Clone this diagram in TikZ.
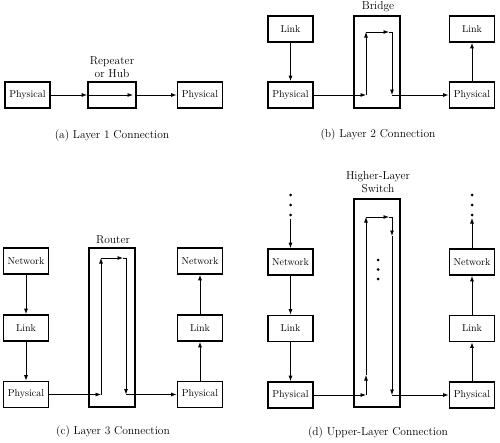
\documentclass[tikz,border=0pt]{standalone}
\usetikzlibrary{arrows.meta}
\begin{document}
\begin{tikzpicture}[x=1pt,y=-1pt,
  box/.style={draw,line width=1.7pt,minimum width=45pt,minimum height=26pt,inner sep=0pt,font=\fontsize{10}{11}\selectfont},
  dev/.style={draw,line width=1.7pt,minimum width=46pt,inner sep=0pt},
  lbl/.style={font=\fontsize{11.5}{13}\selectfont,align=center,inner sep=0pt},
  captxt/.style={font=\fontsize{11.5}{13}\selectfont,inner sep=0pt},
  arr/.style={line width=0.8pt,-{Latex[length=5.5pt,width=4pt]}},
  ln/.style={line width=0.8pt},
  dot/.style={circle,fill,inner sep=0pt,minimum size=3pt}]
\useasboundingbox (0,0) rectangle (500,442);
% ---------- (a)
\node[box] (ap1) at (27.5,95) {Physical};
\node[dev,minimum width=48pt,minimum height=26pt] (hub) at (112,95) {};
\node[box] (ap2) at (200,95) {Physical};
\node[lbl] (hubl) at (112,67) {Repeater\\or Hub};
\coordinate (ha) at (133,95);
\draw[arr] (ap1.east) -- (hub.west);
\draw[arr] (hub.west) -- (ha);
\draw[arr] (hub.east) -- (ap2.west);
\node[captxt] (capa) at (112,136) {(a) Layer 1 Connection};
% ---------- (b)
\node[box] (bl1) at (290.5,29) {Link};
\node[box] (bp1) at (290.5,95) {Physical};
\node[dev,minimum height=92pt] (br) at (377,62) {};
\node[lbl] (brl) at (378,7) {Bridge};
\node[box] (bl2) at (472,29) {Link};
\node[box] (bp2) at (472,95) {Physical};
\coordinate (b1) at (366,95);
\coordinate (b2) at (366,32);
\coordinate (b3) at (389,32);
\coordinate (b4) at (392,32);
\coordinate (b5) at (392,95);
\draw[arr] (bl1) -- (bp1);
\draw[arr] (bp1.east) -- (b1);
\draw[arr] (b1) -- (b2);
\draw[arr] (b2) -- (b3);
\draw[ln] (b3) -- (b4);
\draw[arr] (b4) -- (b5);
\draw[arr] (b5) -- (bp2.west);
\draw[arr] (bp2) -- (bl2);
\node[captxt] (capb) at (378,135) {(b) Layer 2 Connection};
% ---------- (c)
\node[box] (cn1) at (26,261) {Network};
\node[box] (cl1) at (26,328) {Link};
\node[box] (cp1) at (26,394.5) {Physical};
\node[dev,minimum height=159pt] (ro) at (112,327.5) {};
\node[lbl] (rol) at (113,240) {Router};
\node[box] (cn2) at (200,261) {Network};
\node[box] (cl2) at (200,328) {Link};
\node[box] (cp2) at (200,394.5) {Physical};
\coordinate (c1) at (101,394.5);
\coordinate (c2) at (101,258);
\coordinate (c3) at (123,258);
\coordinate (c4) at (126,258);
\coordinate (c5) at (126,394.5);
\draw[arr] (cn1) -- (cl1);
\draw[arr] (cl1) -- (cp1);
\draw[arr] (cp1.east) -- (c1);
\draw[arr] (c1) -- (c2);
\draw[arr] (c2) -- (c3);
\draw[ln] (c3) -- (c4);
\draw[arr] (c4) -- (c5);
\draw[arr] (c5) -- (cp2.west);
\draw[arr] (cp2) -- (cl2);
\draw[arr] (cl2) -- (cn2);
\node[captxt] (capc) at (113,432) {(c) Layer 3 Connection};
% ---------- (d)
\node[dot] (dl1) at (290.5,195) {};
\node[dot] (dl2) at (290.5,205) {};
\node[dot] (dl3) at (290.5,215) {};
\node[box] (dn1) at (290.5,262) {Network};
\node[box] (dl1b) at (290.5,328.5) {Link};
\node[box] (dp1) at (290.5,395) {Physical};
\node[dev,minimum height=208pt] (sw) at (377,303) {};
\node[lbl] (swl) at (378,182) {Higher-Layer\\Switch};
\node[dot] (ds1) at (378,260) {};
\node[dot] (ds2) at (378,269.5) {};
\node[dot] (ds3) at (378,279) {};
\node[box] (dn2) at (472,262) {Network};
\node[box] (dl2b) at (472,328.5) {Link};
\node[box] (dp2) at (472,395) {Physical};
\node[dot] (dr1) at (472,195) {};
\node[dot] (dr2) at (472,205) {};
\node[dot] (dr3) at (472,215) {};
\coordinate (dt1) at (290.5,219);
\coordinate (dt2) at (472,218);
\coordinate (d1) at (366,395);
\coordinate (d1m) at (366,375);
\coordinate (d2) at (366,217);
\coordinate (d3) at (389,217);
\coordinate (d4) at (392,217);
\coordinate (d4m) at (392,236);
\coordinate (d5) at (392,395);
\draw[arr] (dt1) -- (dn1);
\draw[arr] (dn1) -- (dl1b);
\draw[arr] (dl1b) -- (dp1);
\draw[arr] (dp1.east) -- (d1);
\draw[arr] (d1) -- (d1m);
\draw[arr] (d1m) -- (d2);
\draw[arr] (d2) -- (d3);
\draw[ln] (d3) -- (d4);
\draw[arr] (d4) -- (d4m);
\draw[arr] (d4m) -- (d5);
\draw[arr] (d5) -- (dp2.west);
\draw[arr] (dp2) -- (dl2b);
\draw[arr] (dl2b) -- (dn2);
\draw[arr] (dn2) -- (dt2);
\node[captxt] (capd) at (378,433) {(d) Upper-Layer Connection};
\end{tikzpicture}
\end{document}
